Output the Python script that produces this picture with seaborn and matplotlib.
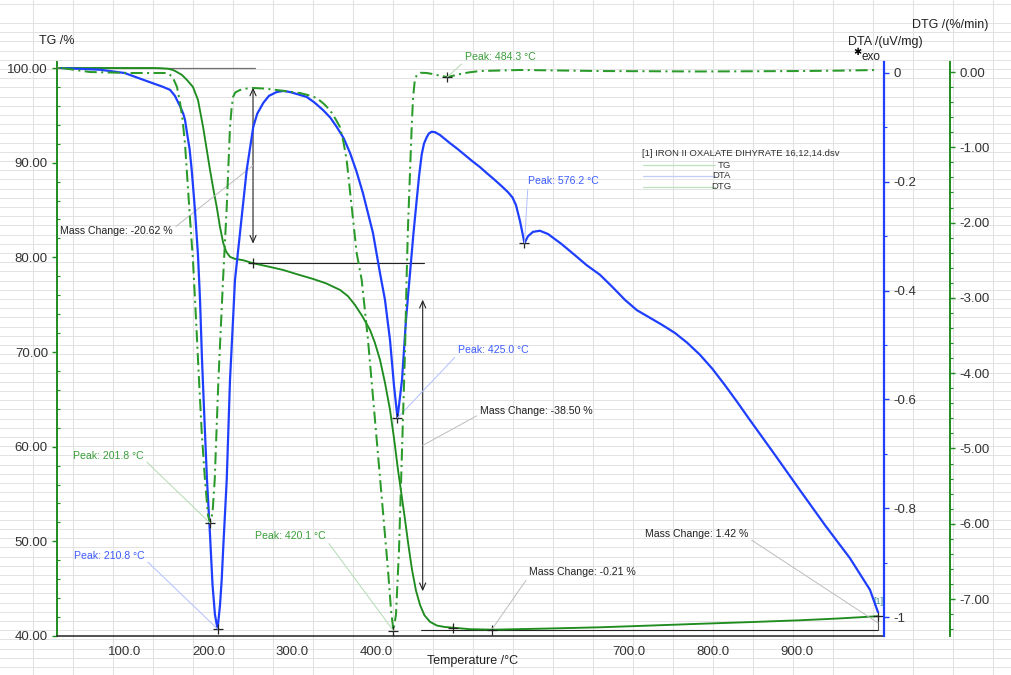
import matplotlib
matplotlib.use("Agg")
import matplotlib.pyplot as plt
from matplotlib.lines import Line2D
from matplotlib.ticker import MultipleLocator, FixedLocator, FuncFormatter
import seaborn as sns

# ---------------- data ----------------
# TG: mass (%) vs temperature (°C)
tg_temp = [22.0, 130.4, 142.3, 152.0, 157.7, 162.0, 168.5, 174.4, 181.5, 187.5,
           193.5, 197.5, 201.8, 205.8, 209.8, 213.5, 217.3, 221.0, 225.6, 231.0,
           241.1, 253.0, 270.0, 288.7, 306.0, 324.4, 340.0, 356.5, 366.0, 374.4,
           383.0, 392.3, 398.0, 404.2, 410.0, 416.1, 421.0, 425.6, 430.0, 434.0,
           438.0, 442.3, 447.0, 451.8, 457.0, 463.7, 472.0, 481.5, 491.0, 511.0,
           538.7, 600.0, 666.0, 725.0, 785.0, 845.0, 904.0, 950.0, 997.0]
tg_mass = [100.00, 100.00, 99.98, 99.92, 99.79, 99.60, 99.26, 98.73, 98.00, 96.62,
           93.80, 91.60, 89.23, 87.20, 85.32, 83.30, 81.60, 80.60, 80.05, 79.85,
           79.70, 79.38, 79.05, 78.67, 78.20, 77.72, 77.25, 76.56, 75.90, 74.97,
           73.80, 72.33, 71.00, 69.17, 66.80, 63.89, 60.80, 57.55, 54.80, 52.27,
           49.60, 46.99, 44.80, 43.29, 42.20, 41.50, 41.10, 40.95, 40.88, 40.72,
           40.67, 40.78, 40.92, 41.10, 41.29, 41.47, 41.66, 41.85, 42.09]

# DTA signal (uV/mg)
dta_temp = [25.6, 70.8, 100.0, 130.4, 145.0, 154.2, 160.0, 166.1, 170.0, 172.0,
            174.4, 177.5, 180.0, 183.9, 187.5, 189.9, 192.3, 195.2, 198.2, 201.8,
            204.8, 207.7, 210.8, 213.7, 215.7, 217.6, 221.7, 225.6, 229.2, 231.5,
            237.5, 245.5, 253.3, 258.0, 265.2, 272.0, 281.2, 289.0, 297.0, 306.0,
            316.9, 326.0, 336.3, 345.0, 352.6, 361.0, 368.5, 376.0, 383.9, 395.8,
            404.2, 410.1, 416.1, 420.8, 425.0, 430.4, 435.1, 439.9, 444.0, 447.9,
            450.8, 453.8, 456.5, 459.8, 462.5, 465.7, 470.0, 475.6, 487.5, 496.0,
            505.4, 514.0, 523.2, 532.0, 541.1, 549.0, 556.5, 562.0, 566.1, 570.8,
            576.2, 580.4, 586.3, 594.6, 604.2, 620.0, 636.3, 650.0, 666.1, 680.0,
            695.8, 710.0, 725.6, 740.0, 755.4, 770.0, 785.1, 800.0, 814.9, 830.0,
            844.6, 874.4, 904.2, 933.9, 963.7, 987.5, 997.0]
dta_signal = [0.009, 0.006, 0.0, -0.017, -0.025, -0.031, -0.042, -0.061, -0.075, -0.086,
              -0.110, -0.140, -0.178, -0.252, -0.335, -0.417, -0.528, -0.638, -0.748, -0.849,
              -0.941, -0.996, -1.022, -0.978, -0.932, -0.871, -0.748, -0.564, -0.454, -0.381,
              -0.294, -0.178, -0.099, -0.075, -0.055, -0.042, -0.035, -0.033, -0.035, -0.039,
              -0.044, -0.054, -0.068, -0.082, -0.099, -0.120, -0.147, -0.180, -0.221, -0.294,
              -0.368, -0.417, -0.491, -0.574, -0.634, -0.564, -0.454, -0.368, -0.295, -0.233,
              -0.188, -0.150, -0.130, -0.118, -0.111, -0.108, -0.109, -0.114, -0.129, -0.139,
              -0.151, -0.162, -0.173, -0.185, -0.197, -0.208, -0.219, -0.229, -0.243, -0.272,
              -0.3125, -0.300, -0.292, -0.290, -0.296, -0.314, -0.335, -0.353, -0.371, -0.392,
              -0.417, -0.436, -0.450, -0.463, -0.478, -0.496, -0.518, -0.544, -0.574, -0.606,
              -0.638, -0.702, -0.767, -0.831, -0.892, -0.950, -0.991]

# DTG rate (%/min)
dtg_temp = [25.6, 58.9, 106.5, 150.6, 157.0, 162.5, 166.0, 169.0, 172.0, 175.0,
            178.0, 181.5, 185.0, 188.7, 192.0, 195.8, 199.4, 201.8, 204.8, 207.4,
            211.8, 217.3, 221.7, 225.6, 227.5, 229.2, 232.0, 237.5, 245.0, 253.0,
            267.0, 281.2, 295.0, 308.9, 318.0, 328.8, 337.0, 344.6, 351.0, 356.5,
            360.5, 364.5, 370.5, 376.4, 382.4, 389.9, 398.2, 406.5, 413.7, 417.3,
            420.1, 423.2, 426.8, 430.4, 434.0, 436.0, 437.5, 440.0, 441.9, 443.5,
            445.5, 447.9, 453.0, 459.8, 466.0, 471.7, 478.0, 484.3, 491.0, 499.4,
            510.0, 523.2, 570.8, 620.0, 666.1, 730.0, 785.1, 850.0, 904.2, 950.0,
            997.0]
dtg_rate = [0.053, 0.0, -0.013, -0.013, -0.060, -0.199, -0.400, -0.620, -0.950, -1.450,
            -1.950, -2.500, -3.250, -4.090, -4.800, -5.418, -5.883, -5.990, -5.857, -5.418,
            -4.090, -2.762, -1.793, -0.730, -0.480, -0.332, -0.270, -0.239, -0.220, -0.212,
            -0.220, -0.239, -0.258, -0.279, -0.305, -0.345, -0.420, -0.505, -0.620, -0.730,
            -0.920, -1.169, -1.793, -2.404, -2.762, -3.559, -4.622, -5.684, -6.614, -7.145,
            -7.420, -7.211, -6.348, -5.020, -3.692, -2.669, -2.058, -1.300, -0.730, -0.350,
            -0.120, -0.040, -0.010, -0.013, -0.025, -0.040, -0.055, -0.066, -0.050, -0.027,
            -0.005, 0.013, 0.027, 0.020, 0.013, 0.010, 0.007, 0.010, 0.013, 0.018,
            0.027]

# peak evaluations
dta_peak_temps = [210.8, 425.0, 576.2]
dta_peak_values = [-1.022, -0.634, -0.3125]
dtg_peak_temps = [201.8, 420.1, 484.3]
dtg_peak_values = [-5.99, -7.42, -0.066]

# mass-change evaluations
mass_changes = [-20.62, -38.50, -0.21, 1.42]
step_levels = [100.00, 79.38, 40.88, 40.67, 42.09]
step_temps = [253.0, 491.0, 538.0, 997.0]
arrow_temps = [253.0, 455.0]

x_ticks = [100, 200, 300, 400, 500, 600, 700, 800, 900]
x_hidden_labels = [500, 600]
tg_ticks = [40, 50, 60, 70, 80, 90, 100]
dta_ticks = [0.0, -0.2, -0.4, -0.6, -0.8, -1.0]
dtg_ticks = [0, -1, -2, -3, -4, -5, -6, -7]

# ---------------- style ----------------
sns.set_style("white")
plt.rcParams["font.family"] = ["Liberation Sans", "DejaVu Sans"]
plt.rcParams["axes.unicode_minus"] = False
plt.rcParams["lines.solid_joinstyle"] = "round"
plt.rcParams["lines.dash_joinstyle"] = "round"

GREEN = "#1f8c1f"
BLUE = "#1f3fff"
GREEN_TXT = "#3a9e3a"
BLUE_TXT = "#3d5cff"
TICK_TXT = "#333333"

W, H = 1011, 675
fig = plt.figure(figsize=(W / 100, H / 100), dpi=100)
fig.patch.set_facecolor("white")


def fpx(x, y):
    """top-left pixel position -> figure pixel position"""
    return (x, H - y)


# spreadsheet cell grid behind the chart
GRID_C = "#e2e2e2"
for gx in range(33, W, 40):
    fig.add_artist(Line2D([gx / W, gx / W], [0, 1], color=GRID_C, lw=0.8,
                          zorder=-5, transform=fig.transFigure))
grid_rows = [4.0] + [23.0 + 9.2 * k for k in range(72)]
for gy in grid_rows:
    if gy > H:
        break
    fig.add_artist(Line2D([0, 1], [1 - gy / H, 1 - gy / H], color=GRID_C, lw=0.7,
                          zorder=-5, transform=fig.transFigure))

ax = fig.add_axes([57 / W, 39 / H, 827 / W, 574 / H])
ax2 = ax.twinx()
ax3 = ax.twinx()
for a in (ax, ax2, ax3):
    a.patch.set_alpha(0)
    a.grid(False)

ax.set_xlim(19.64, 1004.2)
ax.set_ylim(40.0, 100.634)
ax2.set_ylim(-1.0349, 0.0202)
ax3.set_ylim(-7.491, 0.133)

# ---------------- curves ----------------
sns.lineplot(x=tg_temp, y=tg_mass, ax=ax, color=GREEN, linewidth=1.35,
             sort=True, errorbar=None, zorder=4)
sns.lineplot(x=dta_temp, y=dta_signal, ax=ax2, color=BLUE, linewidth=1.6,
             sort=True, errorbar=None, zorder=4)
sns.lineplot(x=dtg_temp, y=dtg_rate, ax=ax3, color="#2a9a2a", linewidth=1.45,
             sort=True, errorbar=None, zorder=4)
ax3.lines[-1].set_dashes((6.0, 2.2, 1.0, 2.2))

# ---------------- spines / ticks ----------------
for s in ("top", "right"):
    ax.spines[s].set_visible(False)
ax.spines["left"].set_color(GREEN)
ax.spines["left"].set_linewidth(1.4)
ax.spines["bottom"].set_color("#333333")
ax.spines["bottom"].set_linewidth(1.2)

for s in ("top", "left", "bottom"):
    ax2.spines[s].set_visible(False)
    ax3.spines[s].set_visible(False)
ax2.spines["right"].set_color(BLUE)
ax2.spines["right"].set_linewidth(1.6)
ax3.spines["right"].set_position(("axes", 66 / 827 + 1.0))
ax3.spines["right"].set_color(GREEN)
ax3.spines["right"].set_linewidth(1.4)

ax.xaxis.set_major_locator(FixedLocator(x_ticks))
ax.xaxis.set_minor_locator(MultipleLocator(25))
ax.xaxis.set_major_formatter(
    FuncFormatter(lambda v, _: "" if round(v) in x_hidden_labels else f"{v:.1f}"))
ax.yaxis.set_major_locator(FixedLocator(tg_ticks))
ax.yaxis.set_minor_locator(MultipleLocator(2))
ax.yaxis.set_major_formatter(FuncFormatter(lambda v, _: f"{v:.2f}"))

ax2.yaxis.set_major_locator(FixedLocator(dta_ticks))
ax2.yaxis.set_minor_locator(MultipleLocator(0.1))
ax2.yaxis.set_major_formatter(FuncFormatter(lambda v, _: f"{round(v, 1):g}"))

ax3.yaxis.set_major_locator(FixedLocator(dtg_ticks))
ax3.yaxis.set_minor_locator(MultipleLocator(0.2))
ax3.yaxis.set_major_formatter(FuncFormatter(lambda v, _: f"{v:.2f}"))

ax.tick_params(axis="x", which="major", direction="out", length=4, width=1,
               color="#333333", labelsize=9.5, labelcolor=TICK_TXT, pad=3)
ax.tick_params(axis="x", which="minor", direction="out", length=2.5, width=0.8,
               color="#333333")
ax.tick_params(axis="y", which="major", direction="out", length=3.5, width=1,
               color=GREEN, labelsize=9.5, labelcolor=TICK_TXT, pad=3)
ax.tick_params(axis="y", which="minor", direction="in", length=2.5, width=0.8, color=GREEN)
ax2.tick_params(axis="y", which="major", direction="out", length=3.5, width=1,
                color=BLUE, labelsize=9.5, labelcolor=TICK_TXT, pad=3)
ax2.tick_params(axis="y", which="minor", direction="out", length=2.5, width=0.8, color=BLUE)
ax3.tick_params(axis="y", which="major", direction="out", length=3.5, width=1,
                color=GREEN, labelsize=9.5, labelcolor=TICK_TXT, pad=3)
ax3.tick_params(axis="y", which="minor", direction="out", length=2.5, width=0.8, color=GREEN)

ax.set_xlabel("")
ax.set_ylabel("")
ax2.set_ylabel("")
ax3.set_ylabel("")

# axis titles
fig.text(57 / W, 1 - 41 / H, "TG /%", ha="center", va="center", fontsize=9, color="#222222")
fig.text(885 / W, 1 - 42 / H, "DTA /(uV/mg)", ha="center", va="center", fontsize=9, color="#222222")
fig.text(950 / W, 1 - 25 / H, "DTG /(%/min)", ha="center", va="center", fontsize=9, color="#222222")
fig.text(473 / W, 1 - 661 / H, "Temperature /°C", ha="center", va="center", fontsize=9, color="#222222")
fig.text(857 / W, 1 - 52 / H, "\u2731", ha="center", va="center", fontsize=7,
         color="black", family=["DejaVu Sans"])
fig.text(862 / W, 1 - 57 / H, "exo", ha="left", va="center", fontsize=8.5, color="#222222")

# ---------------- mass-change constructions ----------------
ax.plot([19.64, 255.0], [step_levels[0], step_levels[0]], color="#707070", lw=0.9, zorder=3)
ax.plot([248.0, 457.0], [step_levels[1], step_levels[1]], color="#222222", lw=0.8, zorder=3)
ax.plot([453.0, step_temps[3]], [step_levels[3], step_levels[3]], color="#222222", lw=0.8, zorder=3)
ax.plot([step_temps[3], step_temps[3]], [step_levels[3], step_levels[4]], color="#555555",
        lw=0.8, zorder=3)

arrow_mids = []
for i, t in enumerate(arrow_temps):
    hi, lo = step_levels[i], step_levels[i + 1]
    inset = 0.10 * (hi - lo)
    ax.annotate("", xy=(t, hi - inset), xytext=(t, lo + inset),
                arrowprops=dict(arrowstyle="<->,head_length=0.5,head_width=0.22",
                                color="#222222", lw=0.8, shrinkA=0, shrinkB=0), zorder=3)
    arrow_mids.append((t, (hi + lo) / 2))

# evaluation markers
ax.plot([step_temps[0]], [step_levels[1]], marker="+", ms=7, mew=0.9, color="#222222", zorder=6)
ax.plot(step_temps[1:3], step_levels[2:4], ls="none", marker="+", ms=7, mew=0.9,
        color="#222222", zorder=6)
ax.plot([step_temps[3]], [step_levels[4]], marker="+", ms=7, mew=0.9, color="#222222", zorder=6)
ax2.plot(dta_peak_temps, dta_peak_values, ls="none", marker="+", ms=7, mew=0.9,
         color="#222222", zorder=6)
ax3.plot(dtg_peak_temps, dtg_peak_values, ls="none", marker="+", ms=7, mew=0.9,
         color="#222222", zorder=6)

LEAD_G = "#b3dbb3"
LEAD_B = "#b3c0ff"
LEAD_K = "#bdbdbd"


def label(axis, xy, text, pos, relpos, color, lead):
    axis.annotate(text, xy=xy, xycoords="data", xytext=fpx(*pos),
                  textcoords="figure pixels", ha="left", va="center",
                  fontsize=7.6, color=color, zorder=7,
                  arrowprops=dict(arrowstyle="-", color=lead, lw=0.7,
                                  shrinkA=0, shrinkB=0, relpos=relpos))


# peak labels
label(ax3, (dtg_peak_temps[0], dtg_peak_values[0]), f"Peak: {dtg_peak_temps[0]:.1f} °C",
      (73, 456), (1.0, 0.2), GREEN_TXT, LEAD_G)
label(ax2, (dta_peak_temps[0], dta_peak_values[0]), f"Peak: {dta_peak_temps[0]:.1f} °C",
      (74, 556), (1.0, 0.2), BLUE_TXT, LEAD_B)
label(ax3, (dtg_peak_temps[1], dtg_peak_values[1]), f"Peak: {dtg_peak_temps[1]:.1f} °C",
      (255, 536), (1.0, 0.2), GREEN_TXT, LEAD_G)
label(ax2, (dta_peak_temps[1], dta_peak_values[1]), f"Peak: {dta_peak_temps[1]:.1f} °C",
      (458, 350), (0.0, 0.1), BLUE_TXT, LEAD_B)
label(ax3, (dtg_peak_temps[2], dtg_peak_values[2]), f"Peak: {dtg_peak_temps[2]:.1f} °C",
      (465, 57), (0.0, 0.1), GREEN_TXT, LEAD_G)
label(ax2, (dta_peak_temps[2], dta_peak_values[2]), f"Peak: {dta_peak_temps[2]:.1f} °C",
      (528, 181), (0.0, 0.1), BLUE_TXT, LEAD_B)

# mass-change labels
label(ax, arrow_mids[0], f"Mass Change: {mass_changes[0]:.2f} %",
      (60, 231), (1.0, 0.7), "#222222", LEAD_K)
label(ax, arrow_mids[1], f"Mass Change: {mass_changes[1]:.2f} %",
      (480, 411), (0.0, 0.2), "#222222", LEAD_K)
label(ax, (step_temps[2], (step_levels[2] + step_levels[3]) / 2),
      f"Mass Change: {mass_changes[2]:.2f} %", (529, 572), (0.0, 0.1), "#222222", LEAD_K)
label(ax, (step_temps[3], (step_levels[3] + step_levels[4]) / 2),
      f"Mass Change: {mass_changes[3]:.2f} %", (645, 534), (1.0, 0.1), "#222222", LEAD_K)

# curve tag at the end of the run
ax.annotate("[1]", xy=fpx(878, 601), xycoords="figure pixels", ha="center", va="center",
            fontsize=6.5, color="#2f8f86")

# ---------------- legend ----------------
fig.text(642 / W, 1 - 153 / H, "[1] IRON II OXALATE DIHYRATE 16,12,14.dsv", ha="left",
         va="center", fontsize=6.8, color="#333333")
legend_rows = [("TG", "#bfe0bf", 165), ("DTA", "#c3cdfa", 176), ("DTG", "#bfe0bf", 187)]
for name, col, yy in legend_rows:
    fig.add_artist(Line2D([643 / W, 715 / W], [1 - yy / H, 1 - yy / H], color=col, lw=0.9,
                          transform=fig.transFigure))
    fig.text(731 / W, 1 - yy / H, name, ha="right", va="center", fontsize=6.8, color="#333333")

fig.savefig("out.png", dpi=100, facecolor="white")
